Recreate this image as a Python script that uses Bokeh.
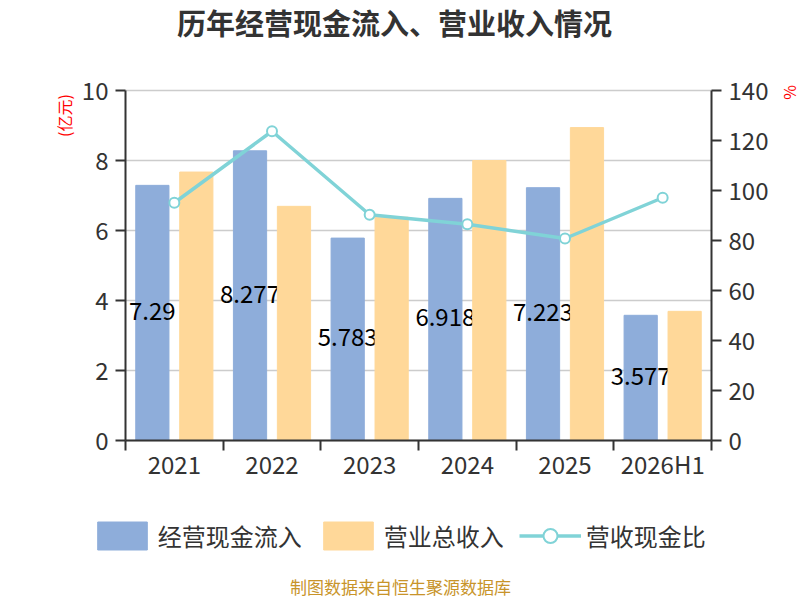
import math
from bokeh.plotting import figure
from bokeh.models import (Range1d, LinearAxis, FixedTicker, Legend, Label,
                          LegendItem, CustomJSTickFormatter)
from bokeh.embed import file_html
from bokeh.resources import INLINE

# ---- data ----
categories = ["2021", "2022", "2023", "2024", "2025", "2026H1"]
cash_inflow = [7.29, 8.277, 5.783, 6.918, 7.223, 3.577]      # 经营现金流入 (亿元)
revenue = [7.67, 6.69, 6.38, 8.00, 8.94, 3.69]              # 营业总收入 (亿元)
ratio = [95.1, 123.7, 90.3, 86.5, 80.8, 97.1]               # 营收现金比 (%)
left_ticks = [0, 2, 4, 6, 8, 10]
right_ticks = [0, 20, 40, 60, 80, 100, 120, 140]

FONT = "Noto Sans CJK SC"
BLUE = "#8eadda"
ORANGE = "#ffd899"
TEAL = "#80d3d7"
AXIS = "#333333"

# ---- layout (pixels) ----
W, H = 800, 600
PL, PR, PT, PB = 125, 711, 90, 440      # plot-area edges on the canvas

n = len(categories)
centers = [i + 0.5 for i in range(n)]
x_blue = [c - 0.225 for c in centers]
x_orange = [c + 0.225 for c in centers]

kx = (PR - PL) / n
ky = (PB - PT) / left_ticks[-1]
kp = (PB - PT) / right_ticks[-1]

p = figure(width=W, height=H, output_backend="svg", toolbar_location=None,
           title=None, x_axis_type=None, y_axis_type=None,
           x_range=Range1d(-PL / kx, n + (W - PR) / kx),
           y_range=Range1d(-(H - PB) / ky, left_ticks[-1] + PT / ky),
           min_border=0)
p.outline_line_color = None
p.background_fill_color = "white"
p.border_fill_color = "white"
p.extra_y_ranges = {"pct": Range1d(-(H - PB) / kp, right_ticks[-1] + PT / kp)}

# ---- grid lines (at the left-axis ticks, across the plot area) ----
p.segment(x0=[0] * len(left_ticks), x1=[n] * len(left_ticks),
          y0=left_ticks, y1=left_ticks, line_color="#cccccc", line_width=1.5)

# ---- axes ----
xa = LinearAxis(fixed_location=0, bounds=(0, n),
                ticker=FixedTicker(ticks=centers, minor_ticks=list(range(n + 1))))
xa.formatter = CustomJSTickFormatter(args=dict(labels=categories), code="""
    const i = Math.floor(tick);
    return (i >= 0 && i < labels.length) ? labels[i] : "";
""")
xa.major_tick_out = 0
xa.major_tick_in = 0
xa.major_tick_line_alpha = 0
xa.minor_tick_out = 10
xa.minor_tick_in = 0
xa.minor_tick_line_color = AXIS
xa.minor_tick_line_width = 2
xa.axis_line_color = AXIS
xa.axis_line_width = 2
xa.major_label_standoff = -5
xa.major_label_text_font = FONT
xa.major_label_text_font_size = "24px"
xa.major_label_text_color = AXIS
p.add_layout(xa, "below")

ya = LinearAxis(fixed_location=0, bounds=(0, left_ticks[-1]),
                ticker=FixedTicker(ticks=left_ticks))
ra = LinearAxis(fixed_location=n, y_range_name="pct",
                bounds=(0, right_ticks[-1]),
                ticker=FixedTicker(ticks=right_ticks))
for ax in (ya, ra):
    ax.major_tick_out = 10
    ax.major_tick_in = 0
    ax.minor_tick_out = 0
    ax.minor_tick_in = 0
    ax.major_tick_line_color = AXIS
    ax.major_tick_line_width = 2
    ax.axis_line_color = AXIS
    ax.axis_line_width = 2
    ax.major_label_standoff = 7
    ax.major_label_text_font = FONT
    ax.major_label_text_font_size = "24px"
    ax.major_label_text_color = AXIS
p.add_layout(ya, "left")
p.add_layout(ra, "right")

# ---- glyphs ----
r_blue = p.vbar(x=x_blue, top=cash_inflow, bottom=0, width=0.34,
                fill_color=BLUE, line_color=BLUE)
p.text(x=x_blue, y=[v / 2 for v in cash_inflow],
       text=[f"{v:g}" for v in cash_inflow],
       text_align="center", text_baseline="middle", y_offset=-2,
       text_font_size="24px", text_color="black",
       text_font={"value": FONT})
r_orange = p.vbar(x=x_orange, top=revenue, bottom=0, width=0.34,
                  fill_color=ORANGE, line_color=ORANGE)
r_line = p.line(x=centers, y=ratio, y_range_name="pct",
                line_color=TEAL, line_width=3.5)
r_pts = p.scatter(x=centers, y=ratio, y_range_name="pct", marker="circle",
                  size=10, fill_color="white", line_color=TEAL, line_width=2)

# ---- legend ----
legend = Legend(items=[
    LegendItem(label="经营现金流入", renderers=[r_blue]),
    LegendItem(label="营业总收入", renderers=[r_orange]),
    LegendItem(label="营收现金比", renderers=[r_line, r_pts]),
], orientation="horizontal", location=(90.75, 47.2),
    glyph_width=62, glyph_height=35, label_standoff=5, spacing=15,
    padding=0, margin=0, border_line_color=None, background_fill_alpha=0,
    label_text_font=FONT, label_text_font_size="24px",
    label_text_color=AXIS)
p.add_layout(legend)

# ---- texts (screen units from the bottom-left corner) ----
def add_text(x, y, text, size, color, bold=False, angle=0.0):
    p.add_layout(Label(x=x, y=y, x_units="screen", y_units="screen",
                       text=text, angle=angle, text_align="center",
                       text_baseline="middle", text_font=FONT,
                       text_font_size=size, text_color=color,
                       text_font_style="bold" if bold else "normal"))

add_text(394, H - 21, "历年经营现金流入、营业收入情况", "29px", AXIS, bold=True)
add_text(63, H - 115, "(亿元)", "16px", "#ff0000", angle=math.pi / 2)
add_text(788, H - 92, "%", "16px", "#ff0000", angle=math.pi / 2)
add_text(400, H - 586, "制图数据来自恒生聚源数据库", "17px", "#c8942a")

open("out.html", "w").write(file_html(p, INLINE))
